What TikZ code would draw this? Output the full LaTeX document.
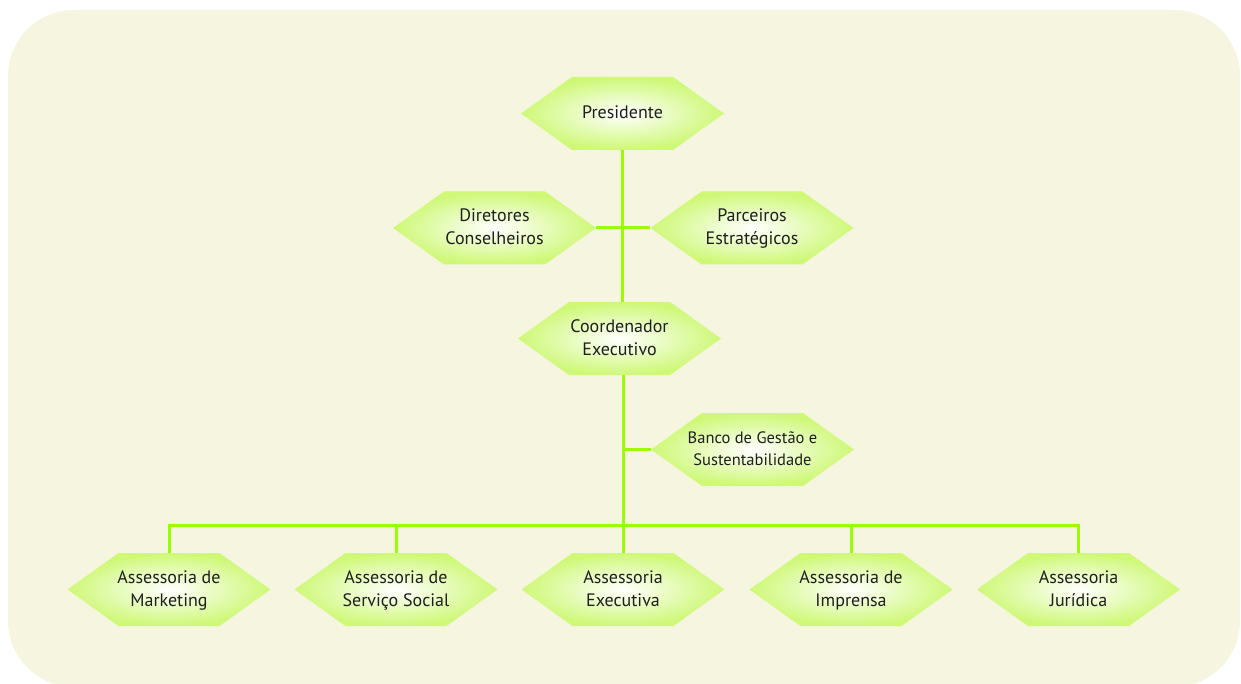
\documentclass[tikz,border=0pt]{standalone}
\usepackage{fontspec}
\setmainfont{PT Sans}
\usetikzlibrary{calc}

\definecolor{bgcream}{RGB}{246,246,224}
\definecolor{linegreen}{RGB}{153,255,0}
\definecolor{hexgreen}{RGB}{206,248,118}
\definecolor{textgray}{RGB}{30,30,30}

\tikzset{
  hexfill/.style={inner color=white, outer color=hexgreen},
  hexbox/.style={minimum width=203pt, minimum height=73pt, inner sep=0pt,
    align=center, text=textgray, font=\fontsize{18}{23}\selectfont,
    text depth=2pt},
  smalltext/.style={font=\fontsize{16.5}{21.5}\selectfont},
  link/.style={linegreen, line width=3pt}
}

% hexagon: name, position, options, text
\newcommand\hexnode[4]{%
  \shade[hexfill] ($#2+(-101.5,0)$) -- ++(51,-36.5) -- ++(101,0)
    -- ++(51,36.5) -- ++(-51,36.5) -- ++(-101,0) -- cycle;
  \node[hexbox,#3] (#1) at #2 {#4};}

\begin{document}
\begin{tikzpicture}[x=1pt,y=-1pt]
\useasboundingbox (0,0) rectangle (1241,684);
\fill[bgcream, rounded corners=66pt] (8,10) rectangle (1240,687);

\hexnode{pres}{(622.5,113.5)}{}{Presidente}
\hexnode{dir}{(494.5,228)}{}{Diretores\\Conselheiros}
\hexnode{parc}{(752,228)}{}{Parceiros\\Estratégicos}
\hexnode{coord}{(619.5,338.5)}{}{Coordenador\\Executivo}
\hexnode{banco}{(752.5,449.5)}{smalltext}{Banco de Gestão e\\Sustentabilidade}

\hexnode{mkt}{(169,589.5)}{}{Assessoria de\\Marketing}
\hexnode{soc}{(396,589.5)}{}{Assessoria de\\Serviço Social}
\hexnode{exe}{(623,589.5)}{}{Assessoria\\Executiva}
\hexnode{imp}{(851,589.5)}{}{Assessoria de\\Imprensa}
\hexnode{jur}{(1078.5,589.5)}{}{Assessoria\\Jurídica}

% connectors
\coordinate (bus) at (623,525.5);
\draw[link] (pres.south) -- (pres.south |- coord.north);
\draw[link] (dir.east) -- (parc.west);
\draw[link] (bus |- coord.south) -- (bus);
\draw[link] (banco.west) -- (banco.west -| bus);
\draw[link] (mkt.north) |- (bus) -| (jur.north);
\draw[link] (soc.north) -- (soc.north |- bus);
\draw[link] (exe.north) -- (exe.north |- bus);
\draw[link] (imp.north) -- (imp.north |- bus);

\end{tikzpicture}
\end{document}
